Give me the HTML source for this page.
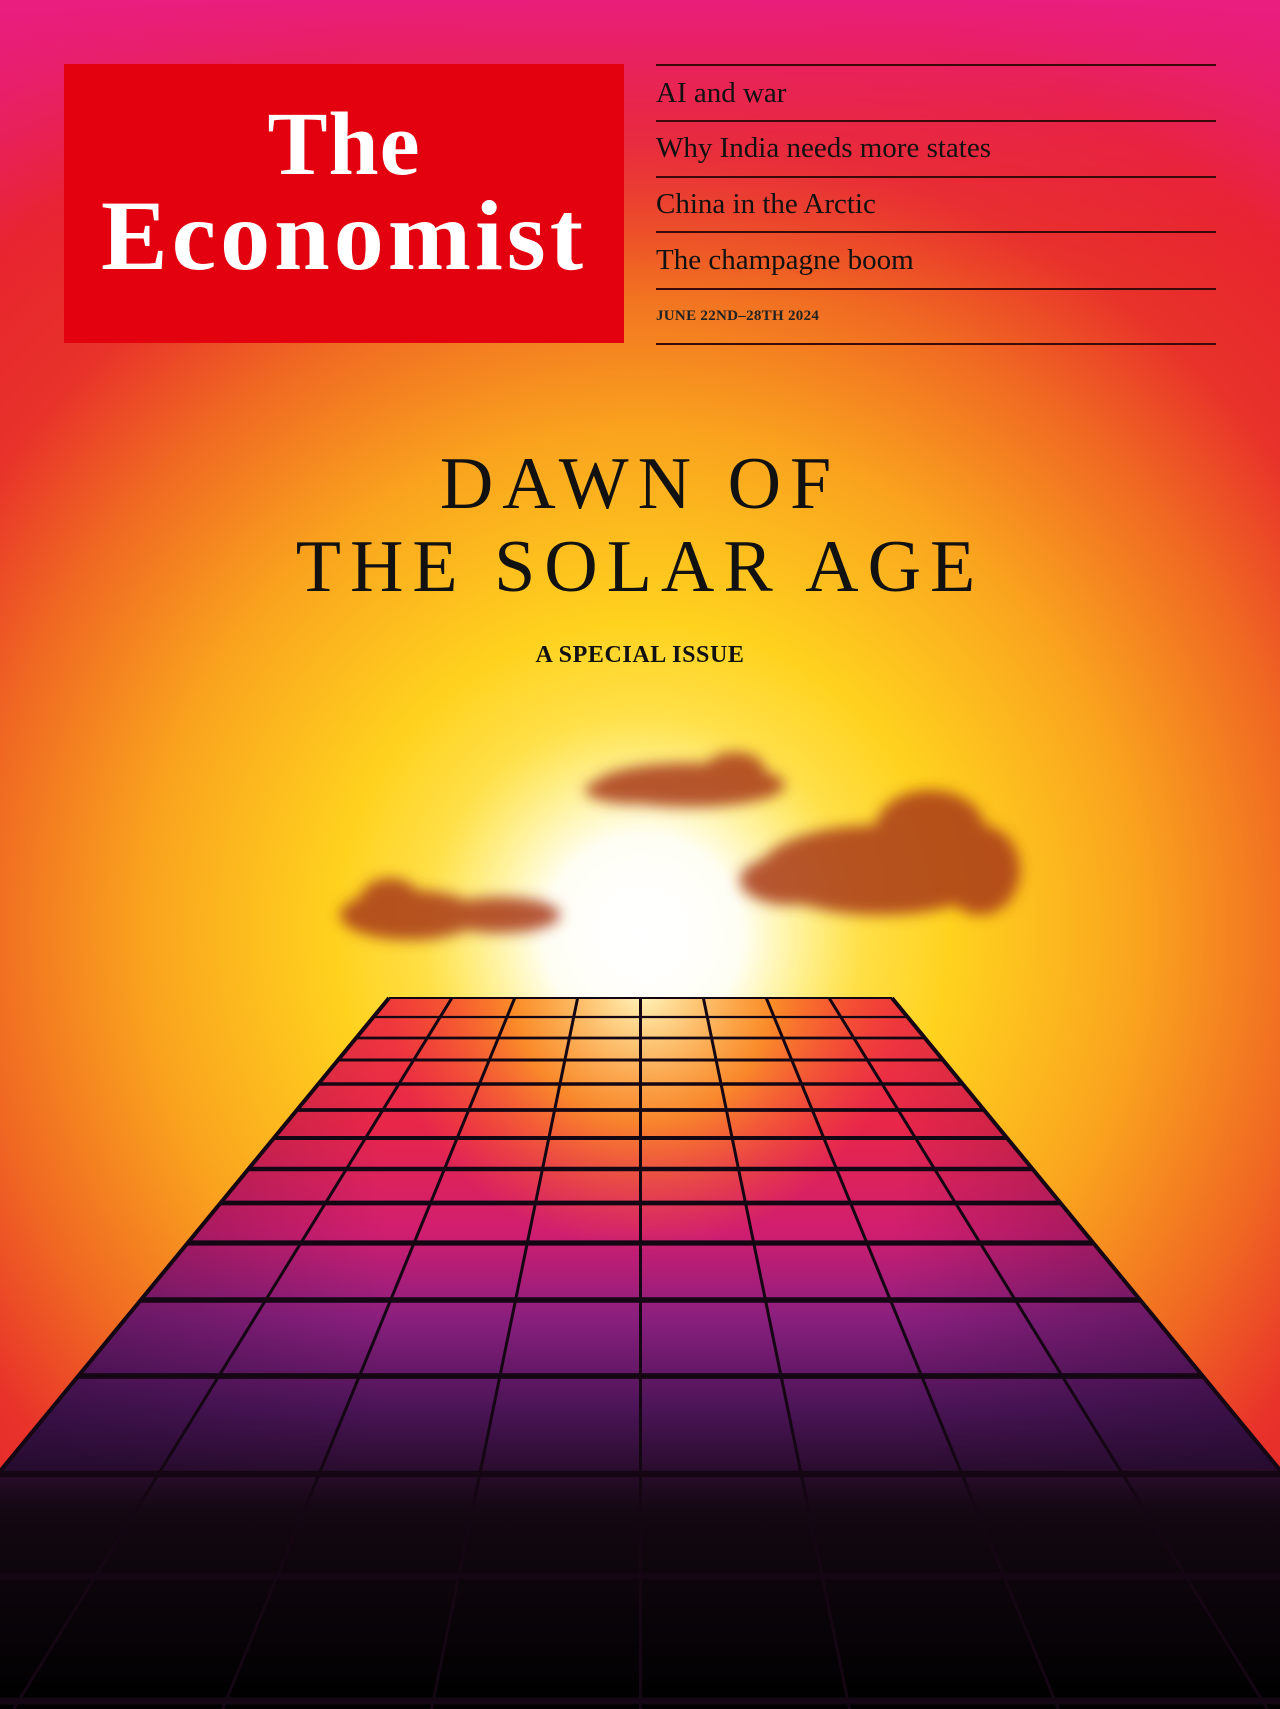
<!DOCTYPE html>
<html><head><meta charset="utf-8"><style>
html,body{margin:0;padding:0;}
body{width:1280px;height:1709px;overflow:hidden;position:relative;font-family:"Liberation Serif",serif;}
#bg{position:absolute;left:0;top:0;}
.masthead{position:absolute;left:64px;top:64px;width:560px;height:279px;background:#e3000f;color:#fff;text-align:center;}
.masthead .the{position:absolute;left:0;width:100%;font-size:90px;line-height:1;font-weight:bold;letter-spacing:1px;}
.masthead .eco{position:absolute;left:0;width:100%;font-size:100px;line-height:1;font-weight:bold;letter-spacing:4px;}
.rule{position:absolute;left:656px;width:560px;height:1.5px;background:#3a0a0a;}
.hl{position:absolute;left:656px;font-size:29px;color:#111;line-height:1;}
.date{position:absolute;left:656px;top:308px;font-size:15px;font-weight:bold;color:#222;letter-spacing:.3px;}
.title{position:absolute;left:0;width:1280px;text-align:center;font-size:74px;letter-spacing:9px;color:#111;line-height:1;}
.sub{position:absolute;left:0;width:1280px;text-align:center;top:642px;font-size:24px;font-weight:bold;color:#111;letter-spacing:.6px;}
</style></head><body>
<svg id="bg" width="1280" height="1709">
<defs>
<radialGradient id="sky" cx="643" cy="930" r="1100" gradientUnits="userSpaceOnUse">
<stop offset="0" stop-color="#fffbe0"/>
<stop offset="0.1" stop-color="#fff07a"/>
<stop offset="0.28" stop-color="#ffd21e"/>
<stop offset="0.45" stop-color="#faa41e"/>
<stop offset="0.6" stop-color="#f06a22"/>
<stop offset="0.72" stop-color="#e8322a"/>
<stop offset="0.85" stop-color="#e8242e"/>
<stop offset="1" stop-color="#e81d7e"/>
</radialGradient>
<linearGradient id="topPink" x1="0" y1="0" x2="0" y2="300" gradientUnits="userSpaceOnUse">
<stop offset="0" stop-color="#e91e80" stop-opacity="0.95"/>
<stop offset="0.5" stop-color="#e8205a" stop-opacity="0.4"/>
<stop offset="1" stop-color="#e8242e" stop-opacity="0"/>
</linearGradient>
<radialGradient id="sun" cx="643" cy="935" r="220" gradientUnits="userSpaceOnUse">
<stop offset="0" stop-color="#ffffff"/>
<stop offset="0.45" stop-color="#ffffff" stop-opacity="0.9"/>
<stop offset="1" stop-color="#fff6a0" stop-opacity="0"/>
</radialGradient>
<linearGradient id="panel" x1="0" y1="998" x2="0" y2="1709" gradientUnits="userSpaceOnUse">
<stop offset="0" stop-color="#f03a3a"/>
<stop offset="0.18" stop-color="#e8264a"/>
<stop offset="0.33" stop-color="#d01e70"/>
<stop offset="0.45" stop-color="#8a1f7e"/>
<stop offset="0.58" stop-color="#4a1456"/>
<stop offset="0.72" stop-color="#140812"/>
<stop offset="1" stop-color="#000"/>
</linearGradient>
<linearGradient id="sideDark" x1="0" y1="0" x2="1280" y2="0" gradientUnits="userSpaceOnUse">
<stop offset="0" stop-color="#200a30" stop-opacity="0.45"/>
<stop offset="0.3" stop-color="#200a30" stop-opacity="0"/>
<stop offset="0.7" stop-color="#200a30" stop-opacity="0"/>
<stop offset="1" stop-color="#200a30" stop-opacity="0.45"/>
</linearGradient>
<radialGradient id="panelglow" cx="643" cy="990" r="260" gradientUnits="userSpaceOnUse">
<stop offset="0" stop-color="#fff8c0"/>
<stop offset="0.5" stop-color="#ffb020" stop-opacity="0.7"/>
<stop offset="1" stop-color="#ff7020" stop-opacity="0"/>
</radialGradient>
<filter id="blur" x="-30%" y="-30%" width="160%" height="160%"><feGaussianBlur stdDeviation="7"/></filter>
</defs>
<rect width="1280" height="1709" fill="url(#sky)"/>
<rect width="1280" height="1709" fill="url(#topPink)"/>
<rect width="1280" height="1709" fill="url(#sun)"/>
<g filter="url(#blur)">
<g fill="#a83a1c" opacity="0.85">
<ellipse cx="690" cy="785" rx="95" ry="22"/><ellipse cx="735" cy="770" rx="30" ry="18"/><ellipse cx="635" cy="790" rx="50" ry="14"/>
<ellipse cx="880" cy="870" rx="120" ry="45"/><ellipse cx="930" cy="830" rx="55" ry="40"/><ellipse cx="980" cy="870" rx="40" ry="45"/><ellipse cx="790" cy="880" rx="50" ry="25"/>
<ellipse cx="410" cy="915" rx="70" ry="25"/><ellipse cx="500" cy="915" rx="60" ry="18"/><ellipse cx="390" cy="900" rx="30" ry="22"/>
</g></g>
<polygon points="389,998 892,998 1280,1468 1280,1709 0,1709 0,1472" fill="url(#panel)"/>
<polygon points="389,998 892,998 1280,1468 1280,1709 0,1709 0,1472" fill="url(#panelglow)"/>
<polygon points="389,998 892,998 1280,1468 0,1472" fill="url(#sideDark)"/>
<g id="grid" stroke="#150614" fill="none"></g>
</svg>

<div class="masthead">
<div class="the" style="top:36px">The</div>
<div class="eco" style="top:122px">Economist</div>
</div>
<div class="rule" style="top:64px"></div>
<div class="hl" style="top:79px">AI and war</div>
<div class="rule" style="top:120px"></div>
<div class="hl" style="top:134px">Why India needs more states</div>
<div class="rule" style="top:176px"></div>
<div class="hl" style="top:190px">China in the Arctic</div>
<div class="rule" style="top:231px"></div>
<div class="hl" style="top:246px">The champagne boom</div>
<div class="rule" style="top:288px"></div>
<div class="date">JUNE 22ND–28TH 2024</div>
<div class="rule" style="top:343px"></div>
<div class="title" style="top:447px">DAWN OF</div>
<div class="title" style="top:530px">THE SOLAR AGE</div>
<div class="sub">A SPECIAL ISSUE</div>

<script>
const cols = 8;
const rowYs = [998,1017,1038,1060,1084,1110,1138,1169,1203,1243,1300,1376,1474,1576,1701];
const vpX = 640.5, vpY = 692, topY = 998, topL = 389, topR = 892;
const g = document.getElementById('grid');
const ns = 'http://www.w3.org/2000/svg';
function xAt(frac, y){ const x0 = topL + frac*(topR-topL); return vpX + (x0-vpX)*(y-vpY)/(topY-vpY); }
for(let i=0;i<=cols;i++){
  const l = document.createElementNS(ns,'line');
  
  
  l.setAttribute('x1',xAt(i/cols,topY)); l.setAttribute('y1',topY);
  l.setAttribute('x2',xAt(i/cols,1709)); l.setAttribute('y2',1709);
  l.setAttribute('stroke-width', i==0||i==cols ? 4 : 3);
  g.appendChild(l);
}
rowYs.forEach((y,k)=>{
  const l = document.createElementNS(ns,'line');
  
  
  l.setAttribute('x1',Math.max(0,xAt(0,y))); l.setAttribute('y1',y);
  l.setAttribute('x2',Math.min(1280,xAt(1,y))); l.setAttribute('y2',y);
  l.setAttribute('stroke-width', 2 + k*0.35);
  g.appendChild(l);
});
</script>
</body></html>
